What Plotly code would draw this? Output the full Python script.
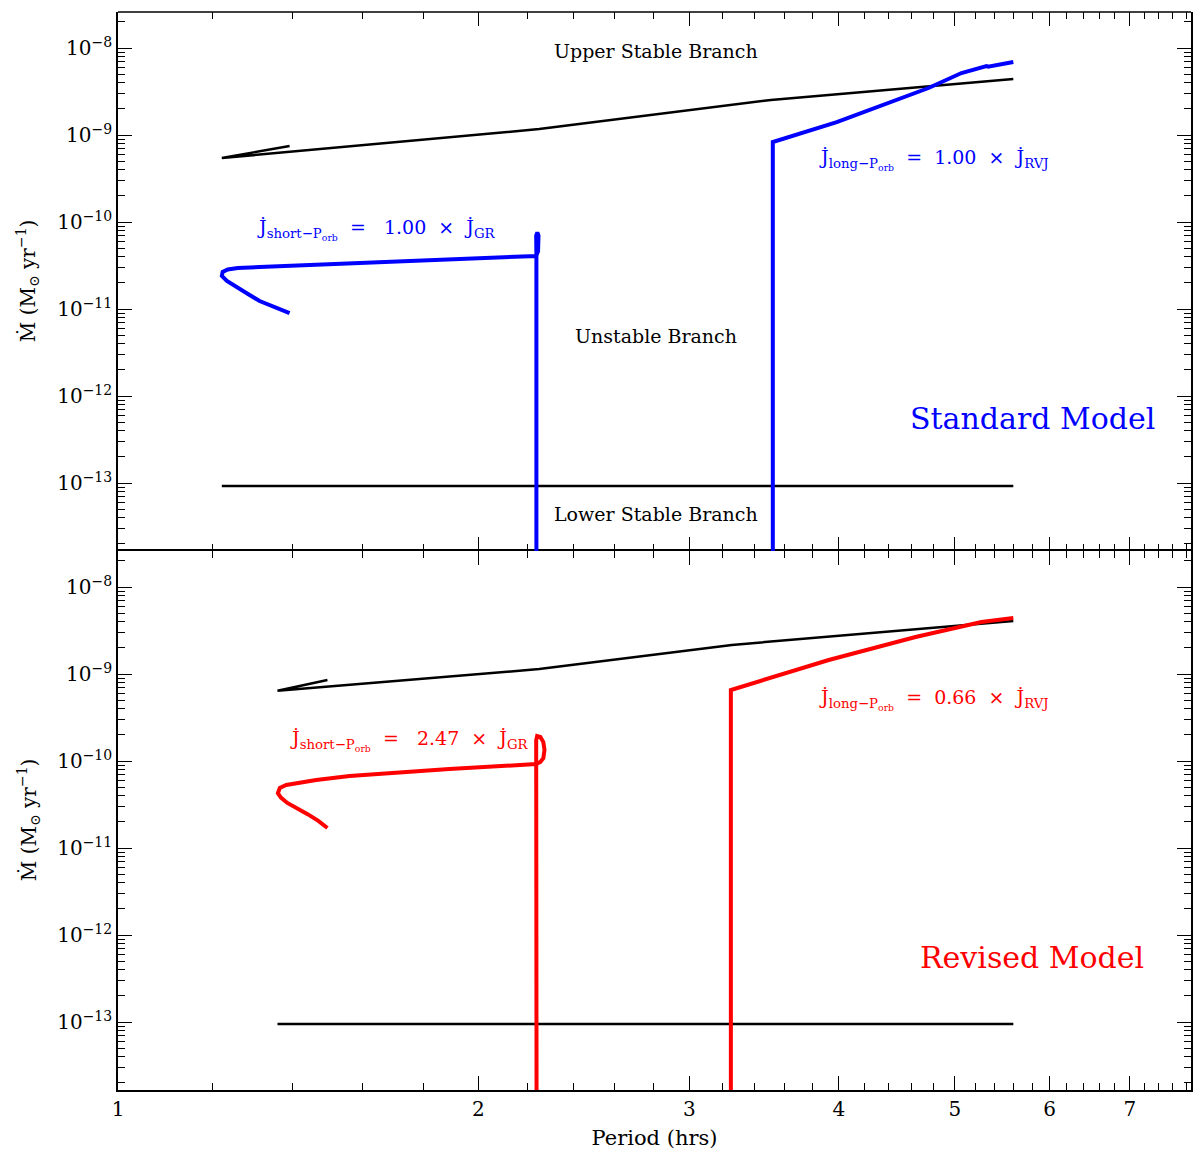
import plotly.graph_objects as go
import numpy as np

# ---------------- data ----------------
# Top panel (Standard Model)
upper_top_P = [1.391, 1.221, 2.248, 3.51, 5.595]
upper_top_M = [7.48e-10, 5.44e-10, 1.17e-9, 2.53e-9, 4.40e-9]
lower_top_P = [1.221, 5.595]
lower_top_M = [9.24e-14, 9.24e-14]
blue_short_P = [1.391, 1.352, 1.313, 1.284, 1.254, 1.233, 1.221, 1.223, 1.235, 1.259, 1.313, 1.418,
                1.511, 1.891, 2.235, 2.243, 2.245, 2.240, 2.235, 2.236, 2.236]
blue_short_M = [8.99e-12, 1.055e-11, 1.236e-11, 1.49e-11, 1.79e-11, 2.10e-11, 2.40e-11, 2.67e-11, 2.85e-11,
                2.96e-11, 3.04e-11, 3.16e-11, 3.29e-11, 3.66e-11, 4.07e-11, 4.6e-11, 7.0e-11, 7.6e-11,
                7.0e-11, 4.07e-11, 1e-15]
blue_long_P = [3.523, 3.523, 3.984, 4.753, 5.064, 5.313, 5.33, 5.595]
blue_long_M = [1e-15, 8.31e-10, 1.41e-9, 3.47e-9, 5.16e-9, 6.21e-9, 6.1e-9, 6.90e-9]

# Bottom panel (Revised Model)
upper_bot_P = [1.496, 1.359, 2.248, 3.256, 5.595]
upper_bot_M = [8.53e-10, 6.43e-10, 1.14e-9, 2.16e-9, 4.07e-9]
lower_bot_P = [1.359, 5.595]
lower_bot_M = [9.48e-14, 9.48e-14]
red_short_P = [1.496, 1.470, 1.440, 1.410, 1.385, 1.368, 1.360, 1.365, 1.382, 1.464, 1.561, 1.891, 2.235,
               2.253, 2.266, 2.271, 2.266, 2.253, 2.239, 2.235, 2.237]
red_short_M = [1.70e-11, 2.05e-11, 2.45e-11, 2.85e-11, 3.30e-11, 3.80e-11, 4.26e-11, 4.90e-11, 5.30e-11,
               6.05e-11, 6.72e-11, 8.09e-11, 9.23e-11, 9.75e-11, 1.08e-10, 1.34e-10, 1.65e-10, 1.89e-10,
               1.94e-10, 1.74e-10, 1e-15]
red_long_P = [3.250, 3.250, 3.923, 4.636, 5.262, 5.595]
red_long_M = [1e-15, 6.55e-10, 1.45e-9, 2.66e-9, 3.96e-9, 4.41e-9]

x_major = [1, 2, 3, 4, 5, 6, 7]
x_major_labels = ["1", "2", "3", "4", "5", "6", "7"]
y_major = [1e-8, 1e-9, 1e-10, 1e-11, 1e-12, 1e-13]
y_major_labels = ["10<sup>−8</sup>", "10<sup>−9</sup>", "10<sup>−10</sup>",
                  "10<sup>−11</sup>", "10<sup>−12</sup>", "10<sup>−13</sup>"]

x_minor = [1.2, 1.4, 1.6, 1.8, 2.2, 2.4, 2.6, 2.8, 3.2, 3.4, 3.6, 3.8, 4.2, 4.4, 4.6, 4.8,
           5.2, 5.4, 5.6, 5.8, 6.2, 6.4, 6.6, 6.8, 7.2, 7.4, 7.6, 7.8]
y_minor = [k * 10.0 ** n for n in range(-14, -7) for k in range(2, 10)]

FONT = "DejaVu Serif"
BLUE = "#0000ff"
RED = "#ff0000"

fig = go.Figure()

def add(P, M, color, width, xa, ya):
    fig.add_trace(go.Scatter(x=P, y=M, mode="lines", line=dict(color=color, width=width),
                             xaxis=xa, yaxis=ya, showlegend=False, hoverinfo="skip"))

# top panel -> x2/y2, bottom -> x/y
add(upper_top_P, upper_top_M, "black", 2.5, "x2", "y2")
add(lower_top_P, lower_top_M, "black", 2.5, "x2", "y2")
add(blue_short_P, blue_short_M, BLUE, 4, "x2", "y2")
add(blue_long_P, blue_long_M, BLUE, 4, "x2", "y2")

add(upper_bot_P, upper_bot_M, "black", 2.5, "x", "y")
add(lower_bot_P, lower_bot_M, "black", 2.5, "x", "y")
add(red_short_P, red_short_M, RED, 4, "x", "y")
add(red_long_P, red_long_M, RED, 4, "x", "y")

xr = [0, 0.8962]
yr = [-13.781, -7.586]

xcommon = dict(type="log", range=xr, showgrid=False, zeroline=False,
               linecolor="black", linewidth=1.6, mirror="ticks",
               ticks="inside", ticklen=14, tickwidth=1.2, tickcolor="black",
               tickmode="array", tickvals=x_major,
               minor=dict(ticks="inside", ticklen=7, tickwidth=1, tickcolor="black",
                          tickmode="array", tickvals=x_minor, showgrid=False),
               tickfont=dict(family=FONT, size=20, color="black"))
ycommon = dict(type="log", range=yr, showgrid=False, zeroline=False,
               showline=True, linecolor="black", linewidth=1.6, mirror="ticks",
               ticks="inside", ticklen=14, tickwidth=1.2, tickcolor="black",
               tickmode="array", tickvals=y_major, ticktext=y_major_labels,
               minor=dict(ticks="inside", ticklen=7, tickwidth=1, tickcolor="black",
                          tickmode="array", tickvals=y_minor, showgrid=False),
               tickfont=dict(family=FONT, size=20, color="black"))

fig.update_layout(
    width=1194, height=1150,
    margin=dict(l=118, r=1, t=12, b=60),
    paper_bgcolor="white", plot_bgcolor="white",
    font=dict(family=FONT, color="black"),
    xaxis=dict(**xcommon, showline=True, domain=[0, 1], anchor="y", ticktext=x_major_labels,
               title=dict(text="Period (hrs)", font=dict(family=FONT, size=21), standoff=12)),
    yaxis=dict(**ycommon, domain=[0, 0.5], anchor="x"),
    xaxis2=dict(**xcommon, showline=False, domain=[0, 1], anchor="y2", showticklabels=False,
                ticktext=x_major_labels),
    yaxis2=dict(**ycommon, domain=[0.5, 1], anchor="x2"),
)

# top border of the upper panel (its bottom border is shared with the lower panel's top)
fig.add_shape(type="line", xref="paper", yref="paper", x0=0, x1=1, y0=1, y1=1,
              line=dict(color="black", width=1.6))

def px2paper(px, py):
    return (px - 118) / 1075.0, (1090 - py) / 1078.0

def ann(text, px, py, size=18, color="black", xanchor="center", angle=0):
    x, y = px2paper(px, py)
    fig.add_annotation(text=text, x=x, y=y, xref="paper", yref="paper", showarrow=False,
                       xanchor=xanchor, yanchor="middle", textangle=angle,
                       font=dict(family=FONT, size=size, color=color))

nb = "\u00a0"
jdot = "J\u0307"

ann("Upper Stable Branch", 657, 51, size=19)
ann("Unstable Branch", 657, 336, size=19)
ann("Lower Stable Branch", 657, 514, size=19)
ann("Standard" + nb + "Model", 1034, 418, size=30, color=BLUE)
ann("Revised" + nb + "Model", 1034, 957, size=30, color=RED)

def jlabel(kind, fac, ref):
    return (jdot + "<sub>" + kind + "−P<sub>orb</sub></sub>" + nb * 2 + "=" + nb * 2 + fac
            + nb * 2 + "×" + nb * 2 + jdot + "<sub>" + ref + "</sub>")

ann(jlabel("short", nb + "1.00", "GR"), 255, 229, size=19, color=BLUE, xanchor="left")
ann(jlabel("long", "1.00", "RVJ"), 818, 160, size=19, color=BLUE, xanchor="left")
ann(jlabel("short", nb + "2.47", "GR"), 288, 740, size=19, color=RED, xanchor="left")
ann(jlabel("long", "0.66", "RVJ"), 818, 699, size=19, color=RED, xanchor="left")

ylab = "M\u0307" + nb + "(M<sub>⊙</sub>" + nb + "yr<sup>−1</sup>)"
ann(ylab, 28, 281, size=20, angle=-90)
ann(ylab, 28, 820, size=20, angle=-90)

fig.write_html("out.html")
